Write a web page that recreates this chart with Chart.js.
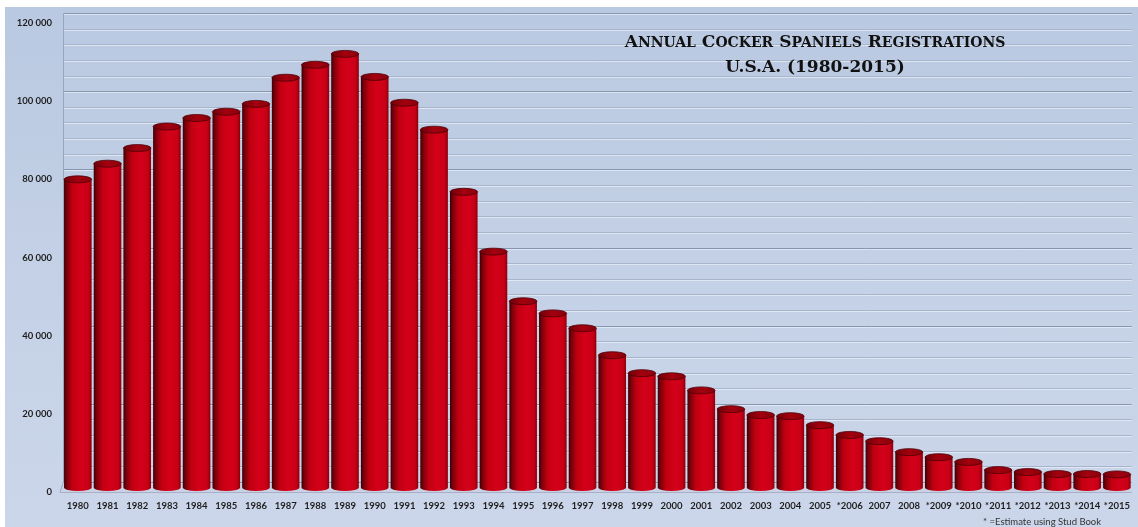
<!DOCTYPE html>
<html>
<head>
<meta charset="utf-8">
<script src="https://cdn.jsdelivr.net/npm/chart.js@4.4.1/dist/chart.umd.min.js"></script>
<style>
  html, body { margin: 0; padding: 0; background: #fff; }
  #wrap { position: relative; width: 1138px; height: 527px; overflow: hidden; }
  #bg {
    position: absolute; left: 5px; top: 7px; right: 0; bottom: 0;
    background: linear-gradient(to bottom, #b9c9e1 0%, #c5d1e6 55%, #cbd6ea 100%);
  }
  #c { position: absolute; left: 0; top: 0; }
  #title {
    position: absolute; left: 515px; width: 600px; top: 29px;
    text-align: center; font-family: "DejaVu Serif", serif; font-weight: bold;
    font-size: 17px; line-height: 24px; color: #111;
  }
  #title .sc { font-size: 14px; }
  #note {
    position: absolute; left: 983px; top: 516px;
    font-family: Lato, "Open Sans", sans-serif; font-size: 9.5px; color: #333;
  }
</style>
</head>
<body>
<div id="wrap">
  <div id="bg"></div>
  <canvas id="c" width="1138" height="527"></canvas>
  <div id="title">A<span class="sc">NNUAL</span> C<span class="sc">OCKER</span> S<span class="sc">PANIELS</span> R<span class="sc">EGISTRATIONS</span><br>U.S.A. (1980-2015)</div>
  <div id="note">* =Estimate using Stud Book</div>
</div>
<script>
// categories and values
const years = ['1980', '1981', '1982', '1983', '1984', '1985', '1986', '1987', '1988', '1989',
  '1990', '1991', '1992', '1993', '1994', '1995', '1996', '1997', '1998', '1999',
  '2000', '2001', '2002', '2003', '2004', '2005', '*2006', '2007', '2008', '*2009',
  '*2010', '*2011', '*2012', '*2013', '*2014', '*2015'];
const registrations = [80000, 84000, 88000, 93500, 95700, 97300, 99300, 106000, 109300, 112100,
  106200, 99600, 92700, 76800, 61500, 48800, 45700, 41900, 35000, 30400,
  29600, 26000, 21200, 19700, 19400, 17100, 14600, 13000, 10200, 8900,
  7700, 5600, 5100, 4600, 4600, 4500];
const yTicks = [0, 20000, 40000, 60000, 80000, 100000, 120000];

const DEPTH = 10; // back wall offset in px

// back wall grid, drawn behind the bars
const wallGrid = {
  id: 'wallGrid',
  beforeDatasetsDraw(chart) {
    const ctx = chart.ctx;
    const y = chart.scales.y;
    const area = chart.chartArea;
    ctx.save();
    for (let v = 0; v <= 120000; v += 4000) {
      const py = Math.round(y.getPixelForValue(v) - DEPTH) + 0.5;
      const major = v % 20000 === 0;
      ctx.strokeStyle = major ? '#8796b0' : '#a7b5cc';
      ctx.lineWidth = 1;
      ctx.beginPath();
      ctx.moveTo(area.left, py);
      ctx.lineTo(area.right, py);
      ctx.stroke();
      ctx.strokeStyle = 'rgba(235,240,250,0.7)';
      ctx.beginPath();
      ctx.moveTo(area.left, py + 1);
      ctx.lineTo(area.right, py + 1);
      ctx.stroke();
    }
    // left wall edge and floor
    const top = y.getPixelForValue(120000) - DEPTH;
    const floorBack = y.getPixelForValue(0) - DEPTH;
    const floorFront = y.getPixelForValue(0);
    ctx.strokeStyle = '#97a5bd';
    ctx.beginPath();
    ctx.moveTo(area.left + 0.5, top);
    ctx.lineTo(area.left + 0.5, floorBack);
    ctx.lineTo(area.left - 3, floorFront);
    ctx.stroke();
    ctx.fillStyle = 'rgba(200,208,225,0.6)';
    ctx.fillRect(area.left, floorBack + 1, area.right - area.left, floorFront - floorBack);
    ctx.strokeStyle = '#a9b0c6';
    ctx.beginPath();
    ctx.moveTo(area.left - 3, floorFront + 0.5);
    ctx.lineTo(area.right, floorFront + 0.5);
    ctx.stroke();
    ctx.restore();
  }
};

// cylinders drawn over the (transparent) bar elements
const cylinders = {
  id: 'cylinders',
  afterDatasetsDraw(chart) {
    const ctx = chart.ctx;
    const meta = chart.getDatasetMeta(0);
    ctx.save();
    meta.data.forEach(bar => {
      const p = bar.getProps(['x', 'y', 'base', 'width'], true);
      const rx = p.width / 2, ry = 3.5;
      const l = p.x - rx, r = p.x + rx;
      const cyBottom = p.base - ry - 1;

      const g = ctx.createLinearGradient(l, 0, r, 0);
      g.addColorStop(0, '#3c0005');
      g.addColorStop(0.1, '#7a000b');
      g.addColorStop(0.3, '#c00010');
      g.addColorStop(0.6, '#d4001a');
      g.addColorStop(0.88, '#c80016');
      g.addColorStop(1, '#8c000c');

      ctx.beginPath();
      ctx.moveTo(l, p.y);
      ctx.lineTo(l, cyBottom);
      ctx.ellipse(p.x, cyBottom, rx, ry, 0, Math.PI, 0, true);
      ctx.lineTo(r, p.y);
      ctx.closePath();
      ctx.fillStyle = g;
      ctx.fill();

      const tg = ctx.createLinearGradient(l, 0, r, 0);
      tg.addColorStop(0, '#6e0009');
      tg.addColorStop(0.5, '#a4000e');
      tg.addColorStop(1, '#8a000c');
      ctx.beginPath();
      ctx.ellipse(p.x, p.y, rx, ry, 0, 0, Math.PI * 2);
      ctx.fillStyle = tg;
      ctx.fill();
      ctx.strokeStyle = '#4e0006';
      ctx.lineWidth = 0.8;
      ctx.stroke();
    });
    ctx.restore();
  }
};

new Chart(document.getElementById('c'), {
  type: 'bar',
  data: {
    labels: years,
    datasets: [{
      data: registrations,
      backgroundColor: 'rgba(0,0,0,0)',
      borderWidth: 0,
      categoryPercentage: 1,
      barPercentage: 0.93
    }]
  },
  options: {
    responsive: false,
    animation: false,
    events: [],
    layout: { padding: { left: 0, right: 5, top: 23, bottom: 0 } },
    plugins: { legend: { display: false }, title: { display: false }, tooltip: { enabled: false } },
    scales: {
      x: {
        grid: { display: false, drawTicks: false },
        border: { display: false },
        ticks: {
          padding: 8, maxRotation: 0, autoSkip: false, color: '#1e1e1e',
          font: { family: 'Lato, "Open Sans", sans-serif', size: 9.5, weight: 'bold' }
        },
        afterFit(scale) { scale.height = 35; }
      },
      y: {
        min: 0, max: 120000,
        grid: { display: false, drawTicks: false },
        border: { display: false },
        afterBuildTicks(scale) { scale.ticks = yTicks.map(v => ({ value: v })); },
        ticks: {
          padding: 11, color: '#1e1e1e',
          font: { family: 'Lato, "Open Sans", sans-serif', size: 9.5, weight: 'bold' },
          callback: v => String(v).replace(/\B(?=(\d{3})+(?!\d))/g, ' ')
        },
        afterFit(scale) { scale.width = 63; }
      }
    }
  },
  plugins: [wallGrid, cylinders]
});
</script>
</body>
</html>
